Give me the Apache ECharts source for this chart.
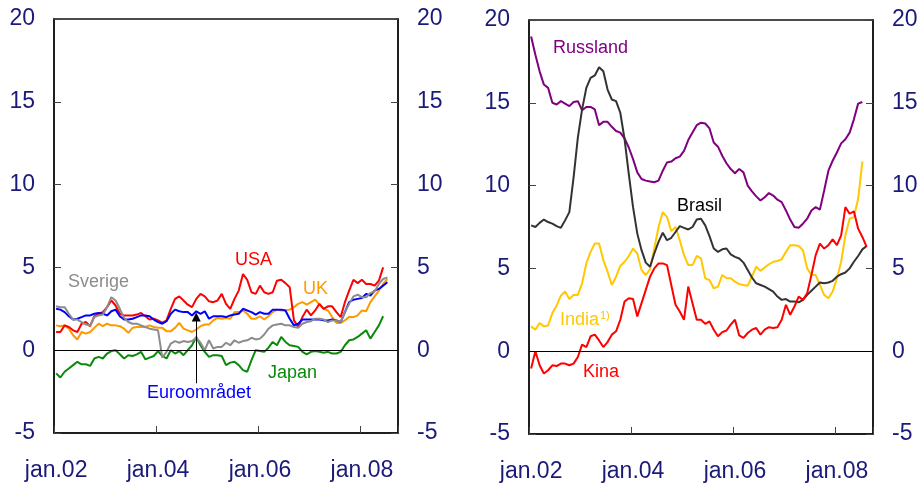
<!DOCTYPE html>
<html>
<head>
<meta charset="utf-8">
<script src="https://cdn.jsdelivr.net/npm/echarts@6/dist/echarts.min.js"></script>
<style>
  html, body { margin: 0; padding: 0; background: #fff; }
  #chart { width: 924px; height: 485px; }
</style>
</head>
<body>
<div id="chart"></div>
<script>
// måneder jan.02 - sep.08
const monthNames = ['jan', 'feb', 'mar', 'apr', 'mai', 'jun', 'jul', 'aug', 'sep', 'okt', 'nov', 'des']
const months = []
for (let i = 0; i < 81; i++) {
  months.push(monthNames[i % 12] + '.0' + (2 + Math.floor(i / 12)))
}
const tickLabels = ['jan.02', 'jan.04', 'jan.06', 'jan.08']

// venstre panel
const usa = [1.1,1.1,1.5,1.4,1.2,1.1,1.6,1.7,1.45,2.05, 2.2,2.3,2.6,3.0,2.7,2.2,2.1,2.1,2.1,2.15,
  2.25,2.05,1.85,1.9,1.8,1.65,1.8,2.5,3.1,3.25, 3.0,2.75,2.6,3.1,3.4,3.25,2.95,2.9,3.0,3.4,
  2.8,2.5,3.1,3.6,4.6,4.25,3.5,3.4,3.9,3.5, 3.4,3.5,4.2,4.25,4.05,3.8,1.8,1.4,2.0,2.45,
  2.1,2.4,2.8,2.5,2.65,2.65,2.3,2.0,2.9,3.6, 4.25,4.05,4.25,4.0,4.0,3.9,4.2,5.0]
const euro = [2.5,2.45,2.3,2.05,1.85,1.9,2.0,2.1,2.1,2.2, 2.25,2.2,2.1,2.35,2.45,2.05,1.85,1.85,1.9,2.0,
  2.1,2.1,2.05,1.85,1.7,1.6,1.75,2.2,2.45,2.35, 2.3,2.3,2.1,2.35,2.2,2.35,1.9,2.05,2.05,2.05,
  2.0,2.1,2.15,2.2,2.5,2.4,2.3,2.15,2.3,2.2, 2.2,2.45,2.45,2.45,2.4,1.9,1.5,1.6,1.85,1.85,
  1.85,1.85,1.85,1.8,1.8,1.85,1.8,1.7,2.3,2.9, 3.05,3.1,3.15,3.4,3.3,3.6,3.7,3.9,4.1]
const sverige = [2.65,2.6,2.6,2.2,1.85,1.85,1.7,1.55,1.5,2.0, 2.1,2.15,2.6,3.2,3.0,2.5,1.95,1.7,1.6,1.6,
  1.5,1.4,1.3,1.25,1.2,-0.45,-0.1,0.4,0.55,0.45, 0.55,0.5,0.55,0.75,0.45,0.0,0.6,0.1,0.2,0.2,
  0.45,0.3,0.6,0.45,0.55,0.6,0.75,0.65,0.7,0.95, 1.3,1.5,1.55,1.6,1.5,1.5,1.4,1.35,1.6,1.7,
  1.75,1.9,1.9,1.85,1.7,1.8,1.8,1.7,2.3,2.8, 3.25,3.35,3.2,3.2,3.45,3.55,4.0,4.3,4.4]
const uk = [1.5,1.45,1.5,1.3,0.9,0.65,1.1,1.0,1.1,1.35, 1.6,1.45,1.6,1.5,1.5,1.45,1.3,1.05,1.35,1.4,
  1.4,1.4,1.5,1.4,1.35,1.35,1.15,1.15,1.35,1.65, 1.3,1.2,1.1,1.25,1.45,1.55,1.55,1.8,1.95,1.9,
  1.95,1.9,2.3,2.3,2.4,2.2,1.9,1.9,2.05,1.85, 2.05,2.3,2.45,2.4,2.4,2.45,2.6,2.8,2.9,2.75,
  2.9,3.05,2.75,2.5,2.4,2.0,1.65,1.65,1.8,2.0, 2.0,2.1,2.4,2.35,2.9,3.25,3.6,4.0,4.3]
const japan = [-1.4,-1.65,-1.3,-1.1,-0.9,-0.7,-0.85,-0.85,-0.95,-0.5, -0.4,-0.5,-0.2,-0.05,0.0,-0.25,-0.5,-0.3,-0.35,-0.25,
  -0.1,-0.55,-0.45,-0.35,-0.05,-0.35,-0.5,0.0,-0.2,-0.05, -0.3,0.0,0.3,0.8,0.3,-0.1,-0.4,-0.3,-0.3,-0.35,
  -0.9,-0.75,-0.7,-0.9,-1.2,-1.3,-0.6,0.0,-0.05,-0.1, 0.15,0.5,0.3,0.8,0.5,0.3,0.25,0.2,-0.1,-0.25,
  -0.1,-0.05,-0.1,-0.15,-0.1,-0.2,-0.2,-0.1,0.3,0.6, 0.65,0.8,1.0,1.2,0.7,1.1,1.5,2.05]

// høyre panel
const russland = [19.0,17.9,16.9,16.1,15.9,15.0,14.9,15.1,14.95,14.8, 15.05,15.1,14.55,14.75,14.75,14.6,13.65,13.85,13.85,13.55,
  13.3,13.2,12.85,12.3,11.6,10.8,10.4,10.3,10.25,10.2, 10.3,10.9,11.4,11.45,11.65,11.75,12.1,12.75,13.2,13.65,
  13.8,13.75,13.45,12.6,12.35,11.8,11.35,11.0,10.75,11.0, 10.8,10.0,9.65,9.35,9.1,9.3,9.55,9.4,9.15,9.0,
  8.5,7.95,7.5,7.45,7.7,8.0,8.5,8.7,8.55,9.7, 10.9,11.5,12.0,12.55,12.8,13.2,14.0,14.95,15.05]
const brasil = [7.6,7.5,7.75,7.95,7.8,7.7,7.55,7.45,7.9,8.4, 10.5,12.9,14.6,15.9,16.5,16.65,17.15,16.9,15.8,15.2,
  15.1,14.4,12.8,10.7,8.7,7.1,6.1,5.35,5.1,5.9, 6.6,7.15,6.7,6.85,7.2,7.55,7.45,7.35,7.5,7.95,
  8.0,7.6,6.95,6.2,6.0,6.15,6.2,5.85,5.7,5.6, 5.35,4.9,4.45,4.1,4.0,3.9,3.75,3.6,3.3,3.1,
  3.15,3.0,3.0,2.95,3.1,3.4,3.65,3.9,4.15,4.1, 4.15,4.25,4.5,4.65,4.75,5.0,5.4,5.75,6.15,6.35]
const india = [1.5,1.3,1.7,1.5,1.55,2.3,2.75,3.35,3.6,3.15, 3.4,3.4,4.1,5.3,6.0,6.5,6.5,5.5,4.8,4.0,
  4.5,5.15,5.4,5.75,6.2,5.9,4.9,4.6,4.95,6.2, 7.5,8.4,8.1,7.25,7.5,6.7,5.8,5.2,5.2,5.75,
  5.6,4.4,4.3,3.8,3.9,4.6,4.4,4.4,4.2,4.05, 4.0,3.95,4.5,5.1,4.85,5.05,5.25,5.4,5.45,5.55,
  6.0,6.4,6.4,6.35,6.1,5.0,4.6,4.6,4.0,3.4, 3.2,3.6,4.4,5.4,7.0,8.0,8.1,9.2,11.45]
const kina = [-1.05,0.0,-0.85,-1.35,-1.15,-0.85,-0.9,-0.75,-0.75,-0.85, -0.75,-0.35,0.4,0.25,0.9,1.0,0.65,0.25,0.55,1.0,
  1.2,1.9,3.0,3.2,3.15,2.1,2.9,3.7,4.5,5.0, 5.3,5.3,5.2,4.0,2.8,2.4,1.9,3.9,2.9,1.9,
  1.9,1.65,1.8,1.3,0.9,1.15,1.25,1.6,1.9,0.95, 0.8,1.1,1.3,1.4,1.0,1.3,1.45,1.4,1.45,1.9,
  2.8,2.2,2.7,3.3,3.1,3.5,4.6,5.8,6.5,6.2, 6.4,6.75,6.4,7.0,8.7,8.3,8.45,7.4,6.9,6.3]

const FONT = 'Arial, "Liberation Sans", sans-serif'
const NAVY = '#1a1a78'

const isTick = (idx, val) => tickLabels.indexOf(val) >= 0

const makeX = (gridIndex) => ({
  type: 'category',
  gridIndex,
  data: months,
  boundaryGap: true,
  axisLine: { show: true, onZero: false, lineStyle: { color: '#111', width: 1.5 } },
  axisTick: { show: true, inside: true, length: 7, interval: isTick, lineStyle: { color: '#444' } },
  axisLabel: { interval: isTick, color: NAVY, fontSize: 23, fontFamily: FONT, margin: 26 },
  splitLine: { show: false }
})

const makeY = (gridIndex, position) => ({
  type: 'value',
  gridIndex,
  position,
  min: -5,
  max: 20,
  interval: 5,
  axisLine: { show: true, onZero: false, lineStyle: { color: '#111', width: 1.5 } },
  axisTick: { show: true, inside: true, length: 7, lineStyle: { color: '#444' } },
  axisLabel: { color: NAVY, fontSize: 23, fontFamily: FONT, margin: 19 },
  splitLine: { show: false }
})

const zeroLine = {
  silent: true,
  symbol: 'none',
  label: { show: false },
  lineStyle: { color: '#000', width: 1, type: 'solid' },
  data: [{ yAxis: 0 }]
}

const line = (name, data, color, xi, yi, extra) => Object.assign({
  name,
  type: 'line',
  xAxisIndex: xi,
  yAxisIndex: yi,
  data,
  showSymbol: false,
  symbol: 'none',
  lineStyle: { color, width: 2 },
  itemStyle: { color },
  animation: false
}, extra || {})

const text = (str, x, y, color, size) => ({
  type: 'text',
  x, y,
  silent: true,
  style: {
    text: str,
    fill: color,
    font: (size || 18) + 'px ' + FONT,
    textVerticalAlign: 'middle',
    verticalAlign: 'middle'
  }
})

const chart = echarts.init(document.getElementById('chart'), null, { renderer: 'canvas' })

chart.setOption({
  backgroundColor: '#fff',
  animation: false,
  grid: [
    { left: 54, top: 19, width: 344, height: 414, show: true, borderColor: '#111', borderWidth: 1.5, containLabel: false },
    { left: 529, top: 20, width: 344, height: 414, show: true, borderColor: '#111', borderWidth: 1.5, containLabel: false }
  ],
  xAxis: [makeX(0), makeX(1)],
  yAxis: [makeY(0, 'left'), makeY(0, 'right'), makeY(1, 'left'), makeY(1, 'right')],
  series: [
    line('Japan', japan, '#0a8a0a', 0, 0, { markLine: zeroLine }),
    line('UK', uk, '#ff9900', 0, 0),
    line('USA', usa, '#ff0000', 0, 0),
    line('Euroområdet', euro, '#0000ff', 0, 0, {
      markLine: {
        silent: true,
        symbol: ['none', 'triangle'],
        symbolSize: 9,
        label: { show: false },
        lineStyle: { color: '#000', width: 1, type: 'solid' },
        data: [[{ coord: ['okt.04', -2.0] }, { coord: ['okt.04', 2.0] }]]
      }
    }),
    line('Sverige', sverige, '#8c8c8c', 0, 0),
    line('Russland', russland, '#800080', 1, 2, { markLine: zeroLine }),
    line('India', india, '#ffc800', 1, 2),
    line('Brasil', brasil, '#333333', 1, 2),
    line('Kina', kina, '#ff0000', 1, 2)
  ],
  graphic: [
    text('Sverige', 68, 282, '#8c8c8c'),
    text('USA', 235, 260, '#ff0000'),
    text('UK', 303, 289, '#ff9900'),
    text('Japan', 268, 373, '#0a8a0a'),
    text('Euroområdet', 147, 393, '#0000ff'),
    text('Russland', 553, 48, '#800080'),
    text('Brasil', 677, 206, '#000'),
    text('India', 560, 320, '#ffc800'),
    text('1)', 600, 316, '#ffc800', 11),
    text('Kina', 583, 372, '#ff0000')
  ]
})
</script>
</body>
</html>
